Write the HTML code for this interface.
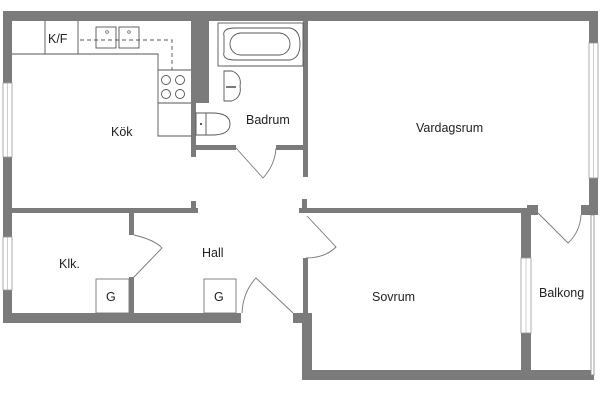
<!DOCTYPE html>
<html><head><style>
html,body{margin:0;padding:0;background:#fff;width:600px;height:400px;overflow:hidden}
text{font-family:"Liberation Sans",Arial,sans-serif;font-size:12.5px;fill:#222}
</style></head><body>
<svg width="600" height="400" viewBox="0 0 600 400" xmlns="http://www.w3.org/2000/svg">
<g fill="#7b7b7b">
<!-- outer top -->
<rect x="3" y="11" width="595" height="10"/>
<!-- left wall -->
<rect x="3" y="11" width="9" height="312"/>
<!-- right wall -->
<rect x="589" y="11" width="9" height="204"/>
<!-- kitchen/bath divider -->
<rect x="191" y="21" width="18" height="82"/>
<rect x="191" y="100" width="5" height="57"/>
<!-- bath right wall -->
<rect x="303" y="21" width="5" height="156"/>
<!-- bath bottom -->
<rect x="195" y="145" width="41" height="5"/>
<rect x="276" y="145" width="30" height="5"/>
<!-- mid horizontal left -->
<rect x="12" y="208" width="186" height="5"/>
<rect x="191" y="201" width="5" height="8"/>
<!-- mid horizontal right -->
<rect x="302" y="199" width="5" height="14"/>
<rect x="299" y="208" width="230" height="5"/>
<rect x="527" y="205" width="11" height="10"/>
<rect x="581" y="205" width="17" height="10"/>
<!-- klk wall -->
<rect x="129" y="213" width="5" height="22"/>
<rect x="129" y="277" width="5" height="37"/>
<!-- bottom left -->
<rect x="3" y="313" width="238" height="10"/>
<!-- sovrum left -->
<rect x="303" y="258" width="5" height="57"/>
<rect x="293" y="313" width="19" height="10"/>
<rect x="302" y="315" width="10" height="65"/>
<!-- bottom right -->
<rect x="302" y="370" width="292" height="10"/>
<!-- sovrum/balkong wall -->
<rect x="521" y="213" width="10" height="162"/>
</g>
<!-- windows -->
<g fill="#fff" stroke="#999" stroke-width="0.8">
<rect x="3" y="83" width="9" height="74"/>
<rect x="3" y="237" width="9" height="53"/>
<rect x="589" y="43" width="9" height="135"/>
<rect x="521" y="258" width="10" height="75"/>
</g>
<g stroke="#aaa" stroke-width="0.6">
<line x1="7.5" y1="83" x2="7.5" y2="157"/>
<line x1="7.5" y1="237" x2="7.5" y2="290"/>
<line x1="593.5" y1="43" x2="593.5" y2="178"/>
<line x1="526" y1="258" x2="526" y2="333"/>
</g>
<!-- balkong rail -->
<rect x="591" y="215" width="3" height="160" fill="#fff" stroke="#888" stroke-width="0.8"/>
<!-- kitchen -->
<g fill="none" stroke="#555" stroke-width="0.9">
<path d="M12 54 H158 V136 H191"/>
<line x1="45" y1="21" x2="45" y2="54"/>
<line x1="78" y1="21" x2="78" y2="54"/>
<line x1="158" y1="70" x2="191" y2="70"/>
<line x1="158" y1="103" x2="191" y2="103"/>
<rect x="96" y="27" width="20" height="21"/>
<rect x="119" y="27" width="20" height="21"/>
<circle cx="166" cy="80" r="4.5"/><circle cx="180" cy="80" r="4.5"/>
<circle cx="166" cy="94" r="4.5"/><circle cx="180" cy="94" r="4.5"/>
<path d="M80 40 H172 V70" stroke-dasharray="4 3"/>
<!-- bath -->
<rect x="218" y="23" width="85" height="43"/>
<path d="M224 36 Q222 28 235 28 H290 Q300 30 300 44 Q300 58 290 60 H235 Q222 60 224 52 Z"/>
<rect x="230" y="33" width="60" height="22" rx="11"/>
<path d="M224 71 H232 Q242 75 240 86 Q242 97 232 101 H224 Z"/>
<line x1="224" y1="66" x2="303" y2="66"/>
<path d="M196 113 H212 Q230 113 230 124 Q230 135 212 135 H196 Z"/>
<line x1="206" y1="113" x2="206" y2="135"/>
</g>
<circle cx="107" cy="32" r="1.3" fill="none" stroke="#555" stroke-width="0.7"/>
<circle cx="129" cy="32" r="1.3" fill="none" stroke="#555" stroke-width="0.7"/>
<line x1="226" y1="87" x2="236" y2="87" stroke="#222" stroke-width="1.2"/>
<circle cx="201" cy="124" r="1" fill="#222"/>
<!-- G boxes -->
<g fill="#fff" stroke="#777" stroke-width="0.9">
<rect x="96" y="279" width="33" height="34"/>
<rect x="204" y="279" width="32" height="34"/>
</g>
<!-- doors -->
<g fill="none" stroke="#777" stroke-width="0.9">
<path d="M236 148 L263 178 Q275 165 276 148"/>
<path d="M134 235 Q155 240 162 248 L134 277"/>
<path d="M307 216 L336 247 Q325 258 306 258"/>
<path d="M293 313 L256 278 Q243 292 242 313"/>
<path d="M538 213 L568 243 Q580 232 581 215"/>
</g>
<text x="48" y="43">K/F</text>
<text x="111" y="136">Kök</text>
<text x="246" y="124">Badrum</text>
<text x="416" y="132">Vardagsrum</text>
<text x="202" y="257">Hall</text>
<text x="59" y="268">Klk.</text>
<text x="106" y="301">G</text>
<text x="214" y="301">G</text>
<text x="372" y="301">Sovrum</text>
<text x="539" y="297">Balkong</text>
</svg>
</body></html>
